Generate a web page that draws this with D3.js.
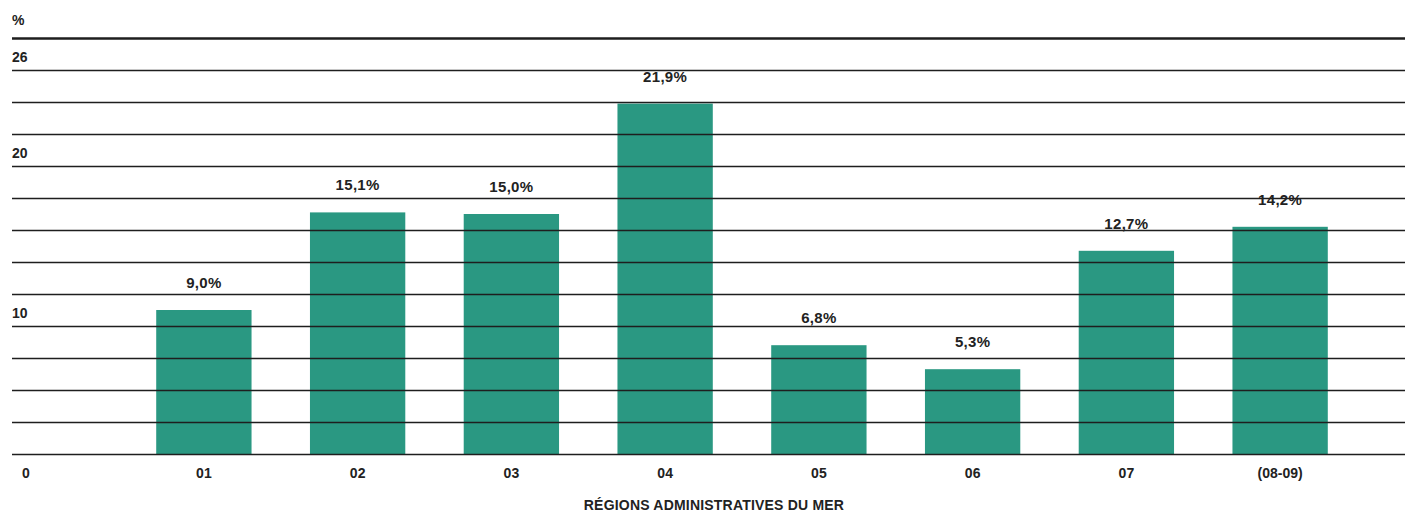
<!DOCTYPE html>
<html>
<head>
<meta charset="utf-8">
<script src="https://cdn.jsdelivr.net/npm/d3@7"></script>
<style>
  html, body { margin: 0; padding: 0; background: #fff; }
  svg { display: block; }
  text { font-family: "Liberation Sans", Arial, Helvetica, sans-serif; font-weight: bold; fill: #222; }
</style>
</head>
<body>
<svg id="chart" width="1405" height="516"></svg>
<script>
// ---- data ----
const categories = ["01", "02", "03", "04", "05", "06", "07", "(08-09)"];
const values = [9.0, 15.1, 15.0, 21.9, 6.8, 5.3, 12.7, 14.2];
const valueLabels = ["9,0%", "15,1%", "15,0%", "21,9%", "6,8%", "5,3%", "12,7%", "14,2%"];
const gridTicks = [0, 2, 4, 6, 8, 10, 12, 14, 16, 18, 20, 22, 24, 26];
const yLabelTicks = [0, 10, 20, 26];
const yUnit = "%";
const xTitle = "RÉGIONS ADMINISTRATIVES DU MER";

// ---- layout ----
const svg = d3.select("#chart");
const gridLeft = 12, gridRight = 1405;
const y = d3.scaleLinear().domain([0, 26]).range([454, 38]);
const x = d3.scaleBand().domain(categories).range([127, 1357])
  .paddingInner(0.38).paddingOuter(0.19);
const barColor = "#2a9882";

// bars
svg.append("g").selectAll("rect").data(values).join("rect")
  .attr("x", (d, i) => x(categories[i]))
  .attr("width", x.bandwidth())
  .attr("y", d => y(d))
  .attr("height", d => y(0) - y(d))
  .attr("fill", barColor);

// gridlines (drawn over bars) via axis
const gridAxis = d3.axisRight(y).tickValues(gridTicks)
  .tickSize(gridRight - gridLeft).tickFormat("");
const gg = svg.append("g").attr("transform", `translate(${gridLeft},0)`).call(gridAxis);
gg.select(".domain").remove();
gg.selectAll(".tick line")
  .attr("stroke", "#1e1e1e")
  .attr("stroke-width", d => d === 26 ? 2.6 : 1.4);

// y labels (below their lines)
svg.append("g").selectAll("text").data(yLabelTicks).join("text")
  .attr("x", d => d === 0 ? 22 : 12)
  .attr("y", d => y(d) + 24)
  .attr("font-size", 14)
  .text(d => d);

svg.append("text").attr("x", 12).attr("y", 25).attr("font-size", 14).text(yUnit);

// x axis labels
const xAxis = d3.axisBottom(x).tickSize(0).tickPadding(0);
const xg = svg.append("g").attr("transform", `translate(0,${y(0) + 24})`).call(xAxis);
xg.select(".domain").remove();
xg.selectAll(".tick text")
  .attr("dy", 0).attr("y", 0)
  .style("font-family", '"Liberation Sans", Arial, sans-serif')
  .style("font-weight", "bold")
  .attr("font-size", 14)
  .attr("fill", "#222");

// value labels
svg.append("g").selectAll("text").data(values).join("text")
  .attr("x", (d, i) => x(categories[i]) + x.bandwidth() / 2)
  .attr("y", d => y(d) - 22)
  .attr("text-anchor", "middle")
  .attr("font-size", 15)
  .style("letter-spacing", "0.3px")
  .text((d, i) => valueLabels[i]);

// x title
svg.append("text").attr("x", 714).attr("y", 510)
  .attr("text-anchor", "middle").attr("font-size", 14)
  .style("letter-spacing", "0.2px")
  .text(xTitle);
</script>
</body>
</html>
